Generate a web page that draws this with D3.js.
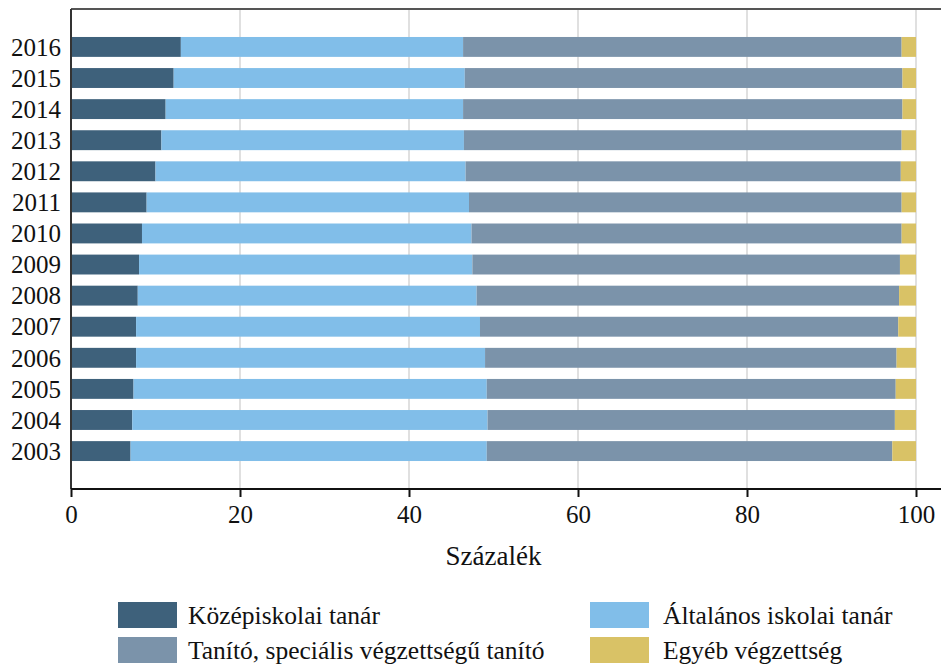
<!DOCTYPE html>
<html>
<head>
<meta charset="utf-8">
<script src="https://cdn.jsdelivr.net/npm/d3@7"></script>
<style>
  body { margin: 0; background: #fff; }
</style>
</head>
<body>
<div id="chart"></div>
<script>
const years = ['2016', '2015', '2014', '2013', '2012', '2011', '2010', '2009', '2008', '2007', '2006', '2005', '2004', '2003']
const seriesNames = ['Középiskolai tanár', 'Általános iskolai tanár', 'Tanító, speciális végzettségű tanító', 'Egyéb végzettség']

// share of each group, percent
const kozep = [13.0, 12.15, 11.2, 10.7, 10.0, 8.95, 8.4, 8.05, 7.9, 7.7, 7.7, 7.4, 7.25, 7.05]
const altalanos = [33.4, 34.45, 35.2, 35.8, 36.7, 38.15, 39.0, 39.45, 40.1, 40.7, 41.3, 41.8, 42.05, 42.15]
const tanito = [51.9, 51.8, 52.0, 51.8, 51.5, 51.2, 50.9, 50.6, 50.0, 49.5, 48.7, 48.4, 48.2, 48.0]
const egyeb = years.map((y, i) => +(100 - kozep[i] - altalanos[i] - tanito[i]).toFixed(2))

const ticks = [0, 20, 40, 60, 80, 100]
const colors = ['#3e617b', '#81bee9', '#7b93aa', '#d9c266']

const width = 941
const height = 669
const plotLeft = 71, plotRight = 941, plotTop = 9, plotBottom = 489
const serif = 'Liberation Serif'

const rows = years.map((y, i) => ({ year: y, v: [kozep[i], altalanos[i], tanito[i], egyeb[i]] }))
const stacked = d3.stack().keys([0, 1, 2, 3]).value((d, k) => d.v[k])(rows)

const x = d3.scaleLinear().domain([0, 100]).range([plotLeft, 916])
const y = d3.scaleBand().domain(years).range([plotTop, plotBottom]).paddingInner(0.36).paddingOuter(0.9)

const svg = d3.select('#chart').append('svg')
    .attr('width', width)
    .attr('height', height)

// grid
svg.append('g')
    .selectAll('line')
    .data(ticks.slice(1))
    .join('line')
    .attr('x1', d => x(d)).attr('x2', d => x(d))
    .attr('y1', plotTop).attr('y2', plotBottom)
    .attr('stroke', '#d6d6d6')
    .attr('stroke-width', 1.5)

// bars
svg.append('g')
    .selectAll('g')
    .data(stacked)
    .join('g')
    .attr('fill', (d, i) => colors[i])
    .selectAll('rect')
    .data(d => d)
    .join('rect')
    .attr('x', d => x(d[0]))
    .attr('y', d => y(d.data.year))
    .attr('width', d => x(d[1]) - x(d[0]))
    .attr('height', y.bandwidth())

// frame lines
svg.append('line')
    .attr('x1', plotLeft).attr('x2', plotRight).attr('y1', plotTop).attr('y2', plotTop)
    .attr('stroke', '#555').attr('stroke-width', 2)
svg.append('line')
    .attr('x1', plotLeft).attr('x2', plotLeft).attr('y1', plotTop).attr('y2', plotBottom)
    .attr('stroke', '#333').attr('stroke-width', 2)

// x axis
const xAxis = svg.append('g')
    .attr('transform', `translate(0, ${plotBottom})`)
    .call(d3.axisBottom(x).tickValues(ticks).tickSize(8).tickPadding(8))
xAxis.select('.domain').remove()
xAxis.append('line')
    .attr('x1', plotLeft).attr('x2', plotRight)
    .attr('stroke', '#111').attr('stroke-width', 2)
xAxis.selectAll('.tick line').attr('stroke', '#111').attr('stroke-width', 2)
xAxis.selectAll('.tick text')
    .attr('font-family', serif)
    .attr('font-size', 25)
    .attr('fill', '#111')

// y labels
svg.append('g')
    .selectAll('text')
    .data(years)
    .join('text')
    .attr('x', 61)
    .attr('y', d => y(d) + y.bandwidth() / 2)
    .attr('dy', '0.35em')
    .attr('text-anchor', 'end')
    .attr('font-family', serif)
    .attr('font-size', 25)
    .attr('fill', '#111')
    .text(d => d)

svg.append('text')
    .attr('x', x(50))
    .attr('y', 565)
    .attr('text-anchor', 'middle')
    .attr('font-family', serif)
    .attr('font-size', 27)
    .attr('fill', '#111')
    .text('Százalék')

// legend
const legendPos = [[118, 602], [590, 602], [118, 637], [590, 637]]
const legend = svg.append('g')
    .selectAll('g')
    .data(seriesNames)
    .join('g')
    .attr('transform', (d, i) => `translate(${legendPos[i][0]}, ${legendPos[i][1]})`)
legend.append('rect')
    .attr('width', 59)
    .attr('height', 26)
    .attr('fill', (d, i) => colors[i])
legend.append('text')
    .attr('x', (d, i) => i % 2 === 0 ? 70 : 73)
    .attr('y', 13)
    .attr('dy', '0.35em')
    .attr('font-family', serif)
    .attr('font-size', 25.5)
    .attr('fill', '#111')
    .text(d => d)
</script>
</body>
</html>
